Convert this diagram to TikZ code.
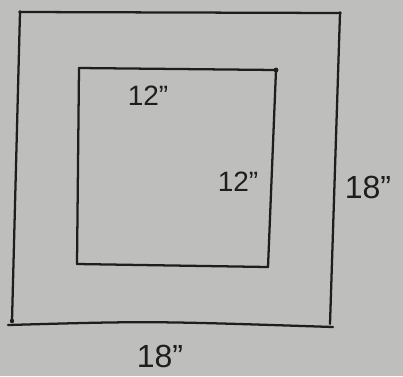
\documentclass[tikz,border=0pt]{standalone}
\usepackage{fontspec}
\setmainfont{Liberation Sans}
\usepackage{tikz}
\usetikzlibrary{positioning}

\definecolor{paper}{RGB}{190,190,188}
\definecolor{pencil}{RGB}{30,30,30}

\tikzset{
  side/.style={draw=pencil, line width=1.7pt, line cap=round, line join=round},
  dim/.style={text=pencil, inner sep=0pt, font=\fontsize{21}{23}\selectfont},
  bigdim/.style={dim, font=\fontsize{24}{26}\selectfont}
}

\begin{document}
\begin{tikzpicture}[x=0.75pt, y=-0.75pt]
    \fill[paper] (0, 0) rectangle (403, 376);
    \useasboundingbox (0, 0) rectangle (403, 376);

    % outer square
    \coordinate (otl) at (20, 12);
    \coordinate (otr) at (340, 13);
    \coordinate (obr) at (330, 324);
    \coordinate (obl) at (12, 321);
    \coordinate (obx) at (8, 325);
    \coordinate (oby) at (333, 327);

    % inner square
    \coordinate (itl) at (79, 68);
    \coordinate (itr) at (276, 70);
    \coordinate (ibr) at (268, 267);
    \coordinate (ibl) at (77, 264);

    \draw[side] (otl) -- (otr);
    \draw[side] (otr) -- (obr);
    \draw[side] (otl) -- (obl);
    \draw[side] (obx) .. controls (150, 321) .. (oby);

    \draw[side] (itl) -- (itr);
    \draw[side] (itr) -- (ibr);
    \draw[side] (ibr) -- (ibl);
    \draw[side] (ibl) -- (itl);

    \fill[pencil] (otl) circle (1.8);
    \fill[pencil] (otr) circle (1.8);
    \fill[pencil] (obl) circle (2.2);
    \fill[pencil] (itr) circle (2.4);

    \node[dim] (topinner) at (148, 96) {12''};
    \node[dim] (rightinner) at (238, 182) {12''};
    \node[bigdim] (rightouter) at (368, 187) {18''};
    \node[bigdim] (bottomouter) at (160, 356) {18''};
\end{tikzpicture}
\end{document}
